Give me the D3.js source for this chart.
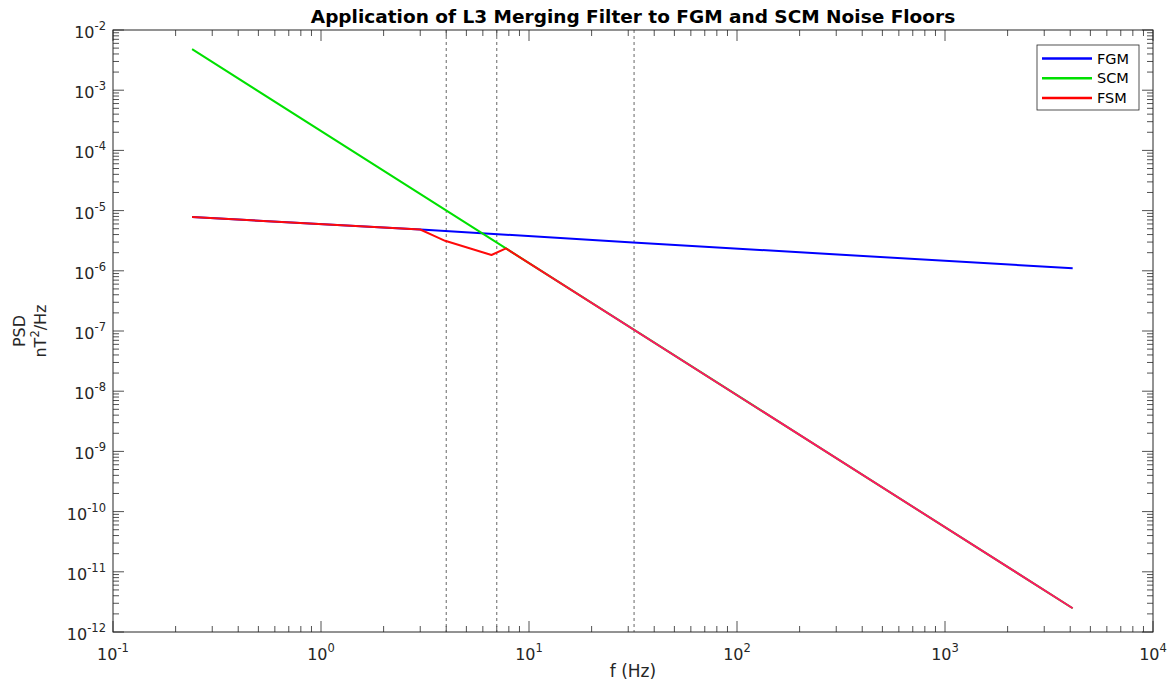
<!DOCTYPE html>
<html>
<head>
<meta charset="utf-8">
<script src="https://cdn.jsdelivr.net/npm/d3@7"></script>
<style>
  body { margin: 0; background: #fff; }
  svg { font-family: "DejaVu Sans", sans-serif; }
</style>
</head>
<body>
<div id="chart"></div>
<script>
// values (f in Hz, PSD in nT^2/Hz)
const fgmFreq = [0.24, 3.16, 31.6, 4110];
const fgmPsd = [7.8e-6, 4.8e-6, 2.95e-6, 1.1e-6];

const scmFreq = [0.24, 7.75, 4110];
const scmPsd = [4.8e-3, 2.35e-6, 2.48e-12];

const fsmFreq = [0.24, 3.0, 3.5, 3.95, 6.6, 7.75, 10, 4110];
const fsmPsd = [7.8e-6, 4.85e-6, 3.8e-6, 3.15e-6, 1.83e-6, 2.35e-6, 1.34e-6, 2.48e-12];

const cutoffFreq = [4, 7, 32];

const xTickExp = [-1, 0, 1, 2, 3, 4];
const yTickExp = [-2, -3, -4, -5, -6, -7, -8, -9, -10, -11, -12];

const seriesNames = ['FGM', 'SCM', 'FSM'];
const seriesColors = ['#0000ff', '#00e000', '#ff0000'];

const outerWidth = 1170;
const outerHeight = 685;
const margin = { top: 30, right: 17, bottom: 53, left: 113 };
const width = outerWidth - margin.left - margin.right;
const height = outerHeight - margin.top - margin.bottom;

const svg = d3.select('#chart').append('svg')
    .attr('width', outerWidth)
    .attr('height', outerHeight);

const g = svg.append('g')
    .attr('transform', `translate(${margin.left}, ${margin.top})`);

const x = d3.scaleLog().domain([1e-1, 1e4]).range([0, width]);
const y = d3.scaleLog().domain([1e-12, 1e-2]).range([height, 0]);

// pink shift of the merged curve past the crossover
const grad = svg.append('defs').append('linearGradient')
    .attr('id', 'fsmGrad')
    .attr('gradientUnits', 'userSpaceOnUse')
    .attr('x1', 0).attr('x2', width).attr('y1', 0).attr('y2', 0);
grad.append('stop').attr('offset', x(9) / width).attr('stop-color', '#ff0a0a');
grad.append('stop').attr('offset', x(25) / width).attr('stop-color', '#ff1464');
grad.append('stop').attr('offset', 1).attr('stop-color', '#ff1464');

// minor + major ticks, inward, on all four sides
const axisColor = '#262626';
const majorLen = 11, minorLen = 6;
const xTicks = [];
for (let e = -1; e < 4; e++) for (let m = 1; m < 10; m++) xTicks.push(m * Math.pow(10, e));
xTicks.push(1e4);
const yTicks = [];
for (let e = -12; e < -2; e++) for (let m = 1; m < 10; m++) yTicks.push(m * Math.pow(10, e));
yTicks.push(1e-2);
const isMajor = v => Math.abs(Math.log10(v) - Math.round(Math.log10(v))) < 1e-9;

const ticks = g.append('g').attr('stroke', axisColor).attr('stroke-width', 0.8);
xTicks.forEach(v => {
    const len = isMajor(v) ? majorLen : minorLen;
    const px = x(v);
    ticks.append('line').attr('x1', px).attr('x2', px).attr('y1', height).attr('y2', height - len);
    ticks.append('line').attr('x1', px).attr('x2', px).attr('y1', 0).attr('y2', len);
});
yTicks.forEach(v => {
    const len = isMajor(v) ? majorLen : minorLen;
    const py = y(v);
    ticks.append('line').attr('x1', 0).attr('x2', len).attr('y1', py).attr('y2', py);
    ticks.append('line').attr('x1', width).attr('x2', width - len).attr('y1', py).attr('y2', py);
});

// tick labels 10^n
const xl = g.append('g').attr('fill', '#262626').attr('font-size', 16);
xTickExp.forEach(e => {
    const t = xl.append('text')
        .attr('x', x(Math.pow(10, e)))
        .attr('y', height + 28)
        .attr('text-anchor', 'middle');
    t.append('tspan').text('10');
    t.append('tspan').attr('dy', -8).attr('font-size', 11.5).text(e);
});
const yl = g.append('g').attr('fill', '#262626').attr('font-size', 16);
yTickExp.forEach(e => {
    const t = yl.append('text')
        .attr('x', -7)
        .attr('y', y(Math.pow(10, e)) + 8)
        .attr('text-anchor', 'end');
    t.append('tspan').text('10');
    t.append('tspan').attr('dy', -8).attr('font-size', 11.5).text(e);
});

// cutoff markers
g.append('g').selectAll('line').data(cutoffFreq).join('line')
    .attr('x1', d => x(d)).attr('x2', d => x(d))
    .attr('y1', 0).attr('y2', height)
    .attr('stroke', '#555')
    .attr('stroke-width', 0.9)
    .attr('stroke-dasharray', '3,3');

const line = d3.line().x(d => x(d[0])).y(d => y(d[1]));
const zip = (a, b) => a.map((v, i) => [v, b[i]]);

g.append('path').datum(zip(fgmFreq, fgmPsd))
    .attr('d', line).attr('fill', 'none')
    .attr('stroke', seriesColors[0]).attr('stroke-width', 2);
g.append('path').datum(zip(scmFreq, scmPsd))
    .attr('d', line).attr('fill', 'none')
    .attr('stroke', seriesColors[1]).attr('stroke-width', 2);
g.append('path').datum(zip(fsmFreq, fsmPsd))
    .attr('d', line).attr('fill', 'none')
    .attr('stroke', 'url(#fsmGrad)').attr('stroke-width', 2)
    .attr('stroke-linejoin', 'round');

// box
g.append('rect')
    .attr('width', width).attr('height', height)
    .attr('fill', 'none').attr('stroke', axisColor).attr('stroke-width', 1);

// legend
const lg = g.append('g').attr('transform', `translate(${1037 - margin.left}, ${45 - margin.top})`);
lg.append('rect').attr('width', 102).attr('height', 65)
    .attr('fill', '#fff').attr('stroke', '#262626').attr('stroke-width', 0.8);
seriesNames.forEach((name, i) => {
    const ly = 13.5 + i * 19.8;
    lg.append('line').attr('x1', 5).attr('x2', 55).attr('y1', ly).attr('y2', ly)
        .attr('stroke', seriesColors[i]).attr('stroke-width', 2.5);
    lg.append('text').attr('x', 60).attr('y', ly + 5)
        .attr('font-size', 14.5).attr('fill', '#000').text(name);
});

// titles
svg.append('text')
    .attr('x', margin.left + width / 2).attr('y', 23)
    .attr('text-anchor', 'middle')
    .attr('font-size', 18.5).attr('font-weight', 'bold')
    .text('Application of L3 Merging Filter to FGM and SCM Noise Floors');

svg.append('text')
    .attr('x', margin.left + width / 2).attr('y', 677)
    .attr('text-anchor', 'middle').attr('font-size', 17).attr('fill', '#262626')
    .text('f (Hz)');

const yt = svg.append('text')
    .attr('transform', `translate(25, ${margin.top + height / 2}) rotate(-90)`)
    .attr('text-anchor', 'middle').attr('font-size', 16).attr('fill', '#262626');
yt.append('tspan').attr('x', 0).attr('dy', 0).text('PSD');
const u = svg.append('text')
    .attr('transform', `translate(46, ${margin.top + height / 2}) rotate(-90)`)
    .attr('text-anchor', 'middle').attr('font-size', 16).attr('fill', '#262626');
u.append('tspan').text('nT');
u.append('tspan').attr('dy', -7).attr('font-size', 11.5).text('2');
u.append('tspan').attr('dy', 7).text('/Hz');
</script>
</body>
</html>
